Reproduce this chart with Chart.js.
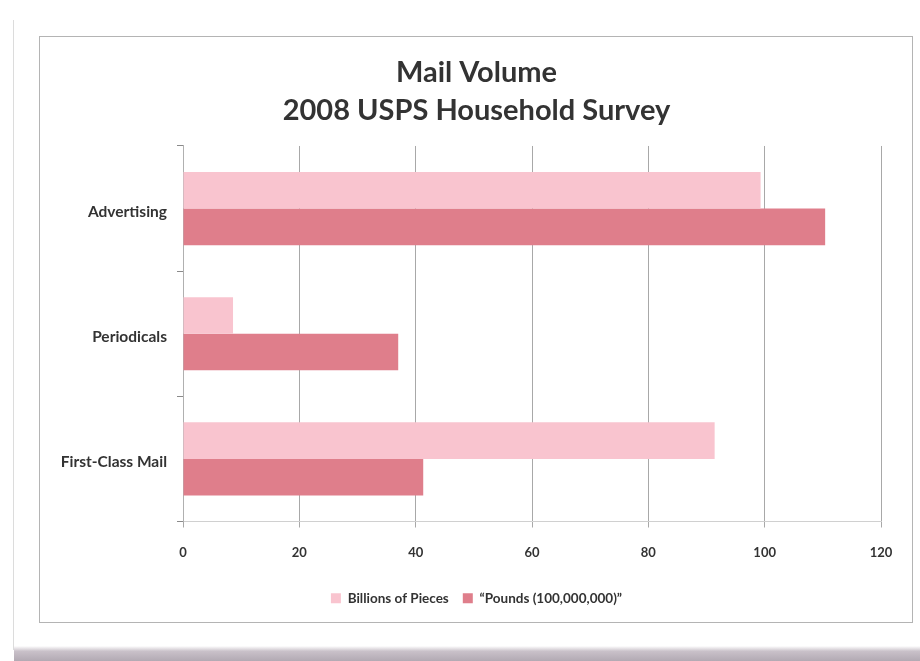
<!DOCTYPE html>
<html>
<head>
<meta charset="utf-8">
<script src="https://cdn.jsdelivr.net/npm/chart.js@4.4.1/dist/chart.umd.min.js"></script>
<style>
  html, body { margin: 0; padding: 0; background: #ffffff; }
  #wrap { width: 920px; height: 661px; position: relative; }
</style>
</head>
<body>
<div id="wrap"><canvas id="c" width="920" height="661"></canvas></div>
<script>
const titleLines = ["Mail Volume", "2008 USPS Household Survey"];
const categories = ["Advertising", "Periodicals", "First-Class Mail"];
const billionsOfPieces = [99.3, 8.6, 91.4];
const poundsHundredMillion = [110.4, 37.0, 41.3];
const seriesNames = ["Billions of Pieces", "\u201cPounds (100,000,000)\u201d"];
const xMin = 0, xMax = 120, xStep = 20;

const framePlugin = {
  id: 'frame',
  beforeDraw(chart) {
    const ctx = chart.ctx;
    ctx.save();
    ctx.fillStyle = '#ffffff';
    ctx.fillRect(0, 0, chart.width, chart.height);
    ctx.strokeStyle = '#dcdcdc';
    ctx.lineWidth = 1;
    ctx.beginPath();
    ctx.moveTo(13.5, 20); ctx.lineTo(13.5, 650);
    ctx.stroke();
    ctx.strokeStyle = '#b4b4b4';
    ctx.strokeRect(39.5, 36.5, 873, 586);
    const g = ctx.createLinearGradient(0, 646, 0, 661);
    g.addColorStop(0, '#ffffff');
    g.addColorStop(0.35, '#c9c1c9');
    g.addColorStop(1, '#b2a9b3');
    ctx.fillStyle = g;
    ctx.fillRect(14, 646, 906, 15);
    ctx.restore();
  }
};

new Chart(document.getElementById('c'), {
  type: 'bar',
  data: {
    labels: categories,
    datasets: [
      {
        label: seriesNames[0],
        data: billionsOfPieces,
        backgroundColor: '#f9c4cf',
        borderWidth: 0
      },
      {
        label: seriesNames[1],
        data: poundsHundredMillion,
        backgroundColor: '#df7e8b',
        borderWidth: 0
      }
    ]
  },
  options: {
    indexAxis: 'y',
    responsive: false,
    animation: false,
    devicePixelRatio: 1,
    datasets: {
      bar: { barPercentage: 1.0, categoryPercentage: 0.585 }
    },
    layout: { padding: { top: 54, left: 40, right: 7, bottom: 46 } },
    plugins: {
      title: {
        display: true,
        text: titleLines,
        color: '#333333',
        font: { family: 'Lato', size: 29, weight: 'bold', lineHeight: 1.31 },
        padding: { top: 0, bottom: 16 }
      },
      legend: {
        display: true,
        position: 'bottom',
        labels: {
          color: '#333333',
          font: { family: 'Lato', size: 13.5, weight: 'bold' },
          boxWidth: 10,
          boxHeight: 10,
          padding: 14
        }
      },
      tooltip: { enabled: false }
    },
    scales: {
      x: {
        type: 'linear',
        min: xMin,
        max: xMax,
        ticks: {
          stepSize: xStep,
          color: '#333333',
          font: { family: 'Lato', size: 13, weight: 'bold' },
          padding: 18
        },
        grid: {
          color: '#a8a8a8',
          lineWidth: 1,
          drawTicks: true,
          tickLength: 6
        },
        border: { display: true, color: '#d0d0d0', width: 1 },
        afterFit(scale) { scale.height = 56; }
      },
      y: {
        ticks: {
          color: '#333333',
          font: { family: 'Lato', size: 15.5, weight: 'bold' },
          padding: 10,
          labelOffset: 3
        },
        grid: {
          drawOnChartArea: false,
          drawTicks: true,
          tickLength: 6,
          color: '#8a8a8a',
          offset: true
        },
        border: { display: true, color: '#b0b0b0', width: 1 },
        afterFit(scale) { scale.width = 143; }
      },
      rightSpace: {
        type: 'linear',
        position: 'right',
        axis: 'y',
        display: true,
        ticks: { display: false },
        grid: { display: false, drawTicks: false },
        border: { display: false },
        afterFit(scale) { scale.width = 32; }
      }
    }
  },
  plugins: [framePlugin]
});
</script>
</body>
</html>
